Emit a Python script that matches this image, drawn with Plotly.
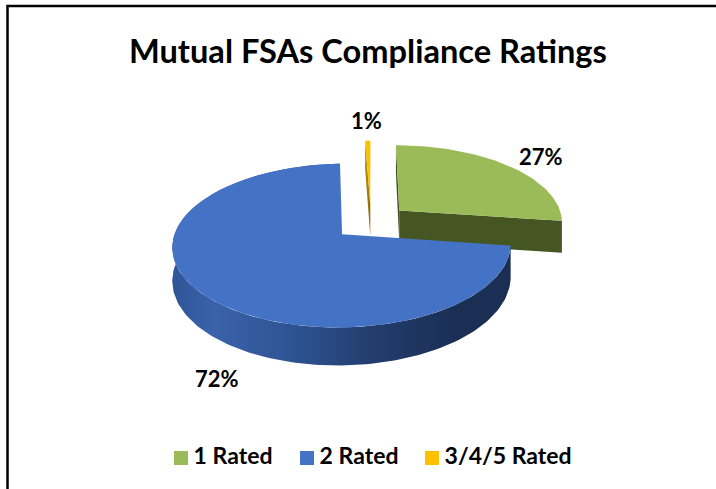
import math
import plotly.graph_objects as go

TITLE = "Mutual FSAs Compliance Ratings"
CATEGORIES = ["1 Rated", "2 Rated", "3/4/5 Rated"]
VALUES = [27.2, 72.2, 0.6]
COLORS = ["#9BBB59", "#4472C4", "#FFC000"]
LABEL_POS = [(541, 156), (217, 378), (366, 120)]
LEGEND_X = [181, 307, 432]
LEGEND_Y = 458

# Projection of the tilted, exploded pie onto the page
CX, CY, RX, RY, PERSP, EXPLODE, DEPTH = 371, 222, 164, 77, 0.135, 0.233, 32


def project(x, z, h=0.0):
    s = 1 / (1 + PERSP * z)
    return CX + RX * x * s, CY - RY * z * s + h * s


total = sum(VALUES)
slices = []
start = 0.0
for v in VALUES:
    sweep = 360.0 * v / total
    slices.append((start, start + sweep))
    start += sweep


def slice_geom(a0, a1):
    mid = math.radians((a0 + a1) / 2)
    ox, oz = EXPLODE * math.sin(mid), EXPLODE * math.cos(mid)
    n = max(4, int((a1 - a0) / 1.5))
    arc = [(ox + math.sin(math.radians(a0 + (a1 - a0) * i / n)),
            oz + math.cos(math.radians(a0 + (a1 - a0) * i / n))) for i in range(n + 1)]
    return (ox, oz), arc


def poly(points, color=None, gradient=None):
    xs = [p[0] for p in points] + [points[0][0]]
    ys = [p[1] for p in points] + [points[0][1]]
    kw = dict(fillgradient=gradient) if gradient else dict(fillcolor=color)
    return go.Scatter(x=xs, y=ys, mode="lines", fill="toself", line=dict(width=0),
                      hoverinfo="skip", showlegend=False, **kw)


def top_face(apex, arc):
    return [project(*apex)] + [project(*p) for p in arc]


def cut_face(apex, end):
    return [project(*apex), project(*end), project(*end, DEPTH), project(*apex, DEPTH)]


fig = go.Figure()

# 3/4/5 Rated (back)
apex, arc = slice_geom(*slices[2])
fig.add_trace(poly(cut_face(apex, arc[0]), gradient=dict(
    type="vertical", colorscale=[[0, "#7F6000"], [1, "#C79A10"]])))
fig.add_trace(poly(top_face(apex, arc), COLORS[2]))

# 1 Rated
apex, arc = slice_geom(*slices[0])
fig.add_trace(poly(cut_face(apex, arc[0]), "#3F4D20"))
fig.add_trace(poly(cut_face(apex, arc[-1]), "#465623"))
fig.add_trace(poly(top_face(apex, arc), COLORS[0]))

# 2 Rated
apex, arc = slice_geom(*slices[1])
wall = [project(*p) for p in arc] + [project(*p, DEPTH) for p in reversed(arc)]
fig.add_trace(poly(wall, gradient=dict(
    type="horizontal",
    colorscale=[[0, "#2F5597"], [0.12, "#3A62AA"], [0.35, "#2F5494"],
                [0.6, "#223C6C"], [0.85, "#1B2E54"], [1, "#1B2E54"]])))
fig.add_trace(poly(top_face(apex, arc), COLORS[1]))

# Legend built from the categories
fig.add_trace(go.Scatter(
    x=LEGEND_X, y=[LEGEND_Y] * 3, mode="markers+text",
    text=["\u2009" + c for c in CATEGORIES], textposition="middle right",
    textfont=dict(family="Lato", size=23, color="#000000", weight="bold"),
    marker=dict(symbol="square", size=14, color=COLORS),
    hoverinfo="skip", showlegend=False))

# Data labels
for v, (lx, ly) in zip(VALUES, LABEL_POS):
    fig.add_annotation(x=lx, y=ly, text=f"<b>{max(round(v), 1)}%</b>", showarrow=False,
                       font=dict(family="Lato", size=22, color="#000000"))

fig.add_annotation(x=368, y=50, text=f"<b>{TITLE}</b>", showarrow=False,
                   font=dict(family="Lato", size=32.6, color="#000000"))

fig.add_shape(type="rect", xref="paper", yref="paper", x0=7.5 / 716, x1=1.01, y0=-0.02, y1=1 - 6 / 489,
              line=dict(color="#000000", width=2.5), fillcolor="rgba(0,0,0,0)")

fig.update_layout(
    width=716, height=489, margin=dict(l=0, r=0, t=0, b=0),
    paper_bgcolor="white", plot_bgcolor="white", showlegend=False,
    xaxis=dict(range=[0, 716], visible=False, fixedrange=True),
    yaxis=dict(range=[489, 0], visible=False, fixedrange=True),
)
fig.write_html("out.html", config={"displayModeBar": False},
               post_script="document.body.style.margin='0';document.documentElement.style.overflow='hidden';")
